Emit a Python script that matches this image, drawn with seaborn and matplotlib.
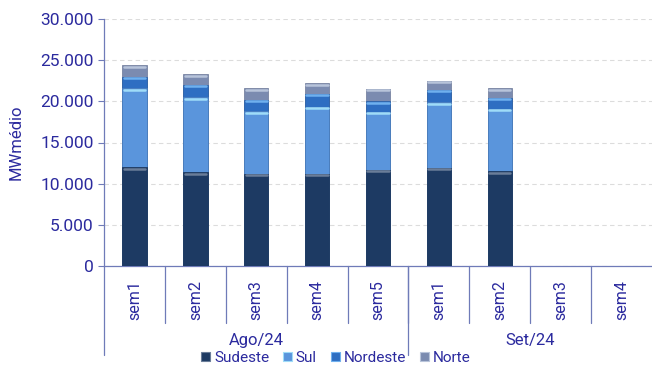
import numpy as np
import pandas as pd
import matplotlib
matplotlib.use("Agg")
import matplotlib.pyplot as plt
import matplotlib.colors as mcolors
from matplotlib.patches import Patch
from matplotlib.ticker import FuncFormatter, MultipleLocator
import seaborn as sns

# Weekly load by subsystem (MWmédio)
weeks = ["sem1", "sem2", "sem3", "sem4", "sem5", "sem1", "sem2", "sem3", "sem4"]
months = ["Ago/24", "Set/24"]
month_sizes = [5, 4]
sudeste = [12000, 11400, 11200, 11200, 11700, 11900, 11500, np.nan, np.nan]
sul = [9600, 9100, 7600, 8100, 7000, 8000, 7600, np.nan, np.nan]
nordeste = [1400, 1500, 1400, 1600, 1300, 1500, 1300, np.nan, np.nan]
norte = [1400, 1300, 1400, 1300, 1500, 1100, 1200, np.nan, np.nan]

series = ["Sudeste", "Sul", "Nordeste", "Norte"]
colors = {"Sudeste": "#1d3a63", "Sul": "#5a95dc", "Nordeste": "#2e6ec2", "Norte": "#7b8bb0"}
highlights = {"Sudeste": "#6a7d99", "Sul": "#9fdcf8", "Nordeste": "#6fb0ee", "Norte": "#b8c4da"}
text_color = "#2b2a9e"
axis_color = "#6f7bb8"

sns.set_theme(style="white")
plt.rcParams["font.family"] = ["Roboto", "DejaVu Sans"]

df = pd.DataFrame({"pos": np.arange(len(weeks)), "Sudeste": sudeste, "Sul": sul,
                   "Nordeste": nordeste, "Norte": norte})
cum = df[series].cumsum(axis=1)

fig = plt.figure(figsize=(6.52, 3.67), dpi=100)
ax = fig.add_axes([104 / 652, 101 / 367, 548 / 652, 247 / 367])

# Stacked bars: draw cumulative totals from the top layer down
layer_of_patch = []
for name in reversed(series):
    n_before = len(ax.patches)
    sns.barplot(x=df["pos"], y=cum[name], color=colors[name], width=0.4,
                saturation=1, ax=ax, order=list(range(len(weeks))), zorder=3)
    layer_of_patch += [name] * (len(ax.patches) - n_before)

# Bevel highlight along the top edge of every segment
for p, name in zip(ax.patches, layer_of_patch):
    h = p.get_height()
    if not np.isfinite(h) or h <= 0:
        continue
    x0, w = p.get_x(), p.get_width()
    ax.plot([x0 + w * 0.06, x0 + w * 0.94], [h - 170, h - 170], color=highlights[name],
            lw=1.8, solid_capstyle="round", zorder=4)
    base = mcolors.to_rgb(colors[name])
    p.set_edgecolor(tuple(c * 0.85 for c in base))
    p.set_linewidth(0.5)

ax.set_xlim(-0.5, len(weeks) - 0.5)
ax.set_ylim(0, 30000)
ax.yaxis.set_major_locator(MultipleLocator(5000))
ax.yaxis.set_major_formatter(FuncFormatter(lambda v, _: f"{int(v):,}".replace(",", ".")))
ax.grid(axis="y", color="#dcdcdc", linestyle=(0, (4, 3)), linewidth=0.8, zorder=0)
ax.set_axisbelow(True)

for s in ["top", "right"]:
    ax.spines[s].set_visible(False)
for s in ["left", "bottom"]:
    ax.spines[s].set_color(axis_color)
    ax.spines[s].set_linewidth(0.9)

ax.tick_params(axis="y", colors=axis_color, labelcolor=text_color, labelsize=12.5,
               length=4, width=0.8, direction="out", left=True)
ax.set_xlabel("")
ax.set_ylabel("MWmédio", color=text_color, fontsize=12, labelpad=12)

# Week labels (rotated), with separators between categories
ax.set_xticks(range(len(weeks)))
ax.set_xticklabels(weeks, rotation=90, color=text_color, fontsize=11.5)
ax.tick_params(axis="x", length=0, pad=10)

trans = ax.get_xaxis_transform()
for i in range(1, len(weeks)):
    ax.plot([i - 0.5, i - 0.5], [0, -0.23], color=axis_color, lw=0.9,
            transform=trans, clip_on=False)

# Month group labels and long separators
start = 0
bounds = [-0.5]
for m, n in zip(months, month_sizes):
    center = start + (n - 1) / 2
    ax.text(center, -0.30, m, transform=trans, ha="center", va="center",
            color=text_color, fontsize=12)
    start += n
    bounds.append(start - 0.5)
for b in bounds[:-1]:
    ax.plot([b, b], [0, -0.36], color=axis_color, lw=0.9, transform=trans, clip_on=False)

handles = [Patch(facecolor=colors[s], edgecolor=highlights[s], linewidth=0.8, label=s)
           for s in series]
leg = fig.legend(handles=handles, loc="center", bbox_to_anchor=(0.515, 0.025), ncol=4,
                 frameon=False, fontsize=11, handlelength=0.6, handleheight=0.6,
                 handletextpad=0.25, columnspacing=0.9, borderaxespad=0)
for t in leg.get_texts():
    t.set_color(text_color)

fig.savefig("out.png", dpi=100)
